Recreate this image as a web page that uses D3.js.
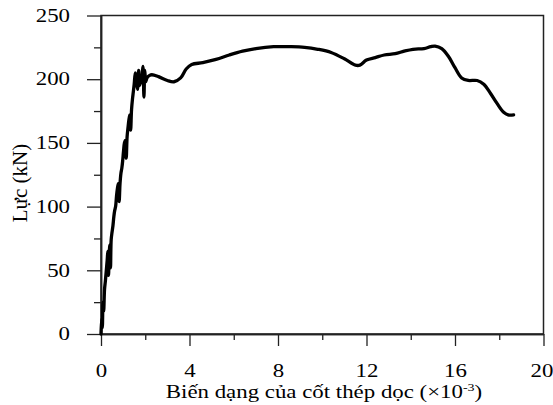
<!DOCTYPE html>
<html>
<head>
<meta charset="utf-8">
<script src="https://cdn.jsdelivr.net/npm/d3@7"></script>
<style>
  html, body { margin: 0; padding: 0; background: #fff; }
  svg { display: block; }
</style>
</head>
<body>
<svg id="chart" width="553" height="405"></svg>
<script>
// ---- data (strain ×10^-3, force kN) ----
const strain = [
  0, 0.03, 0.06, 0.09, 0.12, 0.16, 0.2, 0.24, 0.28, 0.31, 0.34, 0.37, 0.40, 0.43, 0.46, 0.50,
  0.54, 0.58, 0.62, 0.66, 0.70, 0.74, 0.78, 0.82, 0.86, 0.90, 0.94, 0.98, 1.02, 1.06, 1.10,
  1.14, 1.18, 1.22, 1.26, 1.30, 1.34, 1.38, 1.42, 1.46, 1.50, 1.55, 1.60, 1.65, 1.70, 1.74,
  1.80, 1.86, 1.90, 1.94, 1.98, 2.02, 2.08, 2.2,
  2.3, 2.6, 3.0, 3.3, 3.6, 3.85, 4.1, 4.6, 5.2, 5.8, 6.4, 7.0, 7.8, 8.6, 9.2, 9.8, 10.4,
  11.0, 11.5, 11.7, 12.0, 12.4, 12.8, 13.3, 13.7, 14.1, 14.6, 14.9, 15.1, 15.4, 15.7, 16.0,
  16.3, 16.6, 17.0, 17.3, 17.6, 17.9, 18.2, 18.4, 18.65
];
const force = [
  0, 12, 5, 25, 18, 35, 42, 50, 58, 65, 46, 62, 70, 52, 74, 80,
  85, 92, 97, 100, 108, 114, 118, 104, 118, 126, 130, 136, 144, 150, 152,
  138, 155, 162, 168, 172, 160, 176, 184, 190, 196, 205, 200, 192, 207, 195,
  198, 204, 210, 186, 207, 198, 201, 203,
  203.5, 202, 199, 198, 201, 208, 211.5, 213, 215.5, 219, 222, 224, 225.5, 225.5, 225, 223.5, 221,
  216, 211, 211, 215, 217, 219, 220, 222, 223.5, 224, 225.5, 226, 224, 218, 209,
  201, 199, 199, 196, 189, 181, 174, 172, 172
];
const xMajorTicks = [0, 4, 8, 12, 16, 20];
const xMinorTicks = [2, 6, 10, 14, 18];
const yMajorTicks = [0, 50, 100, 150, 200, 250];
const yMinorTicks = [25, 75, 125, 175, 225];
const xTitle = "Biến dạng của cốt thép dọc (×10";
const xTitleSup = "-3";
const yTitle = "Lực (kN)";

// ---- layout ----
const FONT = "'Liberation Serif', 'Times New Roman', Tinos, 'DejaVu Serif', serif";
const FS = 18;          // glyph height size
const SX = 1.27;        // horizontal stretch of the original picture's texts
const svg = d3.select("#chart");
const L = 101, R = 543.5, T = 15.5, B = 334;
const x = d3.scaleLinear().domain([0, 20]).range([L, R]);
const y = d3.scaleLinear().domain([0, 250]).range([B, T]);

// frame
svg.append("rect").attr("x", L).attr("y", T).attr("width", R - L).attr("height", B - T)
  .attr("fill", "none").attr("stroke", "#222").attr("stroke-width", 1.5);

// x axis
const gx = svg.append("g").attr("transform", `translate(0,${B})`)
  .call(d3.axisBottom(x).tickValues(xMajorTicks).tickSize(12).tickSizeOuter(0).tickFormat(d3.format("d")));
svg.append("g").attr("transform", `translate(0,${B})`)
  .call(d3.axisBottom(x).tickValues(xMinorTicks).tickSize(6).tickSizeOuter(0).tickFormat(""));
gx.selectAll(".tick text")
  .attr("y", null).attr("dy", null)
  .attr("transform", (d, i, n) => `translate(${i === n.length - 1 ? -2 : 0},43) scale(${SX},1)`);

// y axis
const gy = svg.append("g").attr("transform", `translate(${L},0)`)
  .call(d3.axisLeft(y).tickValues(yMajorTicks).tickSize(14).tickSizeOuter(0).tickFormat(d3.format("d")));
svg.append("g").attr("transform", `translate(${L},0)`)
  .call(d3.axisLeft(y).tickValues(yMinorTicks).tickSize(7).tickSizeOuter(0).tickFormat(""));
gy.selectAll(".tick text")
  .attr("x", 0)
  .attr("transform", `translate(-31,0) scale(${SX},1)`);

svg.selectAll(".domain").attr("stroke", "#222").attr("stroke-width", 1.5);
svg.selectAll(".tick line").attr("stroke", "#222").attr("stroke-width", 1.3);
svg.selectAll(".tick text").style("font-size", FS + "px").style("font-family", FONT).style("fill", "#000");

// curve
const pts = strain.map((s, i) => [s, force[i]]);
const line = d3.line().x(d => x(d[0])).y(d => y(d[1])).curve(d3.curveCatmullRom.alpha(0.5));
svg.append("path").datum(pts).attr("d", line)
  .attr("fill", "none").attr("stroke", "#000").attr("stroke-width", 3.3)
  .attr("stroke-linejoin", "round").attr("stroke-linecap", "round");

// titles
const xt = svg.append("text").attr("transform", `translate(324,398) scale(${SX},1)`)
  .attr("text-anchor", "middle").style("font-size", FS + "px").style("font-family", FONT);
xt.append("tspan").text(xTitle);
xt.append("tspan").attr("dy", -7).style("font-size", "11px").text(xTitleSup);
xt.append("tspan").attr("dy", 7).text(")");

svg.append("text").attr("transform", `translate(27,183) rotate(-90)`)
  .attr("text-anchor", "middle").style("font-size", "21px").style("font-family", FONT).text(yTitle);
</script>
</body>
</html>
